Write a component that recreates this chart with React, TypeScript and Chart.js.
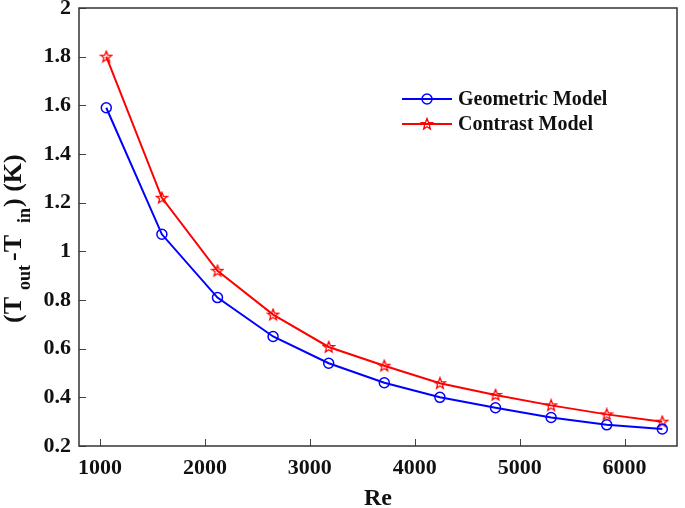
import React, { useEffect, useRef } from 'react';
import { Chart, registerables } from 'chart.js';

Chart.register(...registerables);

const reynolds = [1060, 1590, 2120, 2650, 3180, 3710, 4240, 4770, 5300, 5830, 6360];
const geometric = [1.59, 1.07, 0.81, 0.65, 0.54, 0.46, 0.4, 0.357, 0.317, 0.287, 0.27];
const contrast = [1.8, 1.22, 0.92, 0.74, 0.607, 0.53, 0.458, 0.41, 0.367, 0.33, 0.3];
const xTicks = [1000, 2000, 3000, 4000, 5000, 6000];
const yTicks = [0.2, 0.4, 0.6, 0.8, 1, 1.2, 1.4, 1.6, 1.8, 2];
const seriesNames = ['Geometric Model', 'Contrast Model'];
const xTitle = 'Re';

const FONT = '"Liberation Serif", "Times New Roman", serif';
const BLUE = '#0000ff';
const RED = '#ff0000';

function makeStar(color: string): HTMLCanvasElement {
  const c = document.createElement('canvas');
  c.width = 14;
  c.height = 14;
  const g = c.getContext('2d')!;
  g.strokeStyle = color;
  g.lineWidth = 1.3;
  g.beginPath();
  const cx = 7, cy = 7.3, ro = 5.8, ri = 2.5;
  for (let i = 0; i < 10; i++) {
    const r = i % 2 === 0 ? ro : ri;
    const a = -Math.PI / 2 + (i * Math.PI) / 5;
    const px = cx + r * Math.cos(a);
    const py = cy + r * Math.sin(a);
    if (i === 0) g.moveTo(px, py);
    else g.lineTo(px, py);
  }
  g.closePath();
  g.stroke();
  return c;
}

export default function App() {
  const ref = useRef<HTMLCanvasElement>(null);

  useEffect(() => {
    if (!ref.current) return;
    const star = makeStar(RED);

    const decor = {
      id: 'decor',
      afterDraw(chart: any) {
        const { ctx, chartArea } = chart;
        const xs = chart.scales.x;
        const ys = chart.scales.y;
        ctx.save();
        // inward ticks
        ctx.strokeStyle = '#444';
        ctx.lineWidth = 1;
        xTicks.forEach((v) => {
          const px = Math.round(xs.getPixelForValue(v)) + 0.5;
          ctx.beginPath();
          ctx.moveTo(px, chartArea.bottom);
          ctx.lineTo(px, chartArea.bottom - 7);
          ctx.stroke();
        });
        yTicks.forEach((v) => {
          const py = Math.round(ys.getPixelForValue(v)) + 0.5;
          ctx.beginPath();
          ctx.moveTo(chartArea.left, py);
          ctx.lineTo(chartArea.left + 7, py);
          ctx.stroke();
        });
        // box
        ctx.strokeStyle = '#333';
        ctx.lineWidth = 1.5;
        ctx.strokeRect(chartArea.left, chartArea.top, chartArea.right - chartArea.left, chartArea.bottom - chartArea.top);

        // x title
        ctx.fillStyle = '#111';
        ctx.font = `bold 24px ${FONT}`;
        ctx.textAlign = 'center';
        ctx.textBaseline = 'alphabetic';
        ctx.fillText(xTitle, (chartArea.left + chartArea.right) / 2, 505);

        // y title with subscripts
        ctx.save();
        ctx.translate(21, 323);
        ctx.rotate(-Math.PI / 2);
        ctx.textAlign = 'left';
        const pieces: [string, number, number, number][] = [
          ['(T', 0, 0, 26],
          ['out', 33, 9, 18],
          ['-T', 62, 0, 26],
          ['in', 100, 9, 18],
          [') (K)', 116, 0, 26],
        ];
        pieces.forEach(([t, dx, dy, fs]) => {
          ctx.font = `bold ${fs}px ${FONT}`;
          ctx.fillText(t, dx, dy);
        });
        ctx.restore();

        // legend
        const rows = [
          { y: 99, color: BLUE, name: seriesNames[0], marker: 'circle' },
          { y: 124, color: RED, name: seriesNames[1], marker: 'star' },
        ];
        rows.forEach((r) => {
          ctx.strokeStyle = r.color;
          ctx.lineWidth = 2;
          ctx.beginPath();
          ctx.moveTo(402, r.y);
          ctx.lineTo(452, r.y);
          ctx.stroke();
          if (r.marker === 'circle') {
            ctx.lineWidth = 1.5;
            ctx.beginPath();
            ctx.arc(427, r.y, 5, 0, Math.PI * 2);
            ctx.stroke();
          } else {
            ctx.drawImage(star, 427 - 7, r.y - 7);
          }
          ctx.fillStyle = '#111';
          ctx.font = `bold 20px ${FONT}`;
          ctx.textAlign = 'left';
          ctx.textBaseline = 'middle';
          ctx.fillText(r.name, 458, r.y + 1);
        });
        ctx.restore();
      },
    };

    const chart = new Chart(ref.current, {
      type: 'line',
      data: {
        datasets: [
          {
            label: seriesNames[0],
            data: reynolds.map((x, i) => ({ x, y: geometric[i] })),
            borderColor: BLUE,
            backgroundColor: 'transparent',
            borderWidth: 2,
            pointStyle: 'circle',
            pointRadius: 5,
            pointBorderWidth: 1.5,
            pointBorderColor: BLUE,
            pointBackgroundColor: 'transparent',
            tension: 0,
          },
          {
            label: seriesNames[1],
            data: reynolds.map((x, i) => ({ x, y: contrast[i] })),
            borderColor: RED,
            backgroundColor: 'transparent',
            borderWidth: 2,
            pointStyle: star as any,
            pointRadius: 6,
            tension: 0,
          },
        ],
      },
      options: {
        responsive: false,
        animation: false,
        layout: { padding: { left: 0, top: 8, right: 4, bottom: 0 } },
        plugins: {
          legend: { display: false },
          tooltip: { enabled: false },
        },
        scales: {
          x: {
            type: 'linear',
            min: 800,
            max: 6500,
            grid: { display: false, drawTicks: false },
            border: { display: false },
            afterBuildTicks: (s: any) => {
              s.ticks = xTicks.map((v) => ({ value: v }));
            },
            afterFit: (s: any) => {
              s.height = 62;
              s.paddingLeft = 0;
              s.paddingRight = 0;
              s.paddingTop = 0;
              s.paddingBottom = 0;
            },
            ticks: {
              padding: 9,
              color: '#111',
              font: { family: FONT, size: 22, weight: 'bold' },
              callback: (v: any) => String(v),
              maxRotation: 0,
            },
          },
          y: {
            type: 'linear',
            min: 0.2,
            max: 2,
            grid: { display: false, drawTicks: false },
            border: { display: false },
            afterBuildTicks: (s: any) => {
              s.ticks = yTicks.map((v) => ({ value: v }));
            },
            afterFit: (s: any) => {
              s.width = 79;
              s.paddingTop = 0;
              s.paddingBottom = 0;
              s.paddingLeft = 0;
              s.paddingRight = 0;
            },
            ticks: {
              padding: 8,
              color: '#111',
              font: { family: FONT, size: 22, weight: 'bold' },
              callback: (v: any) => String(+Number(v).toFixed(1)),
            },
          },
        },
      },
      plugins: [decor],
    });

    return () => chart.destroy();
  }, []);

  return (
    <div style={{ position: 'fixed', left: 0, top: 0, width: 685, height: 508, background: '#fff' }}>
      <canvas ref={ref} width={685} height={508} style={{ display: 'block' }} />
    </div>
  );
}
